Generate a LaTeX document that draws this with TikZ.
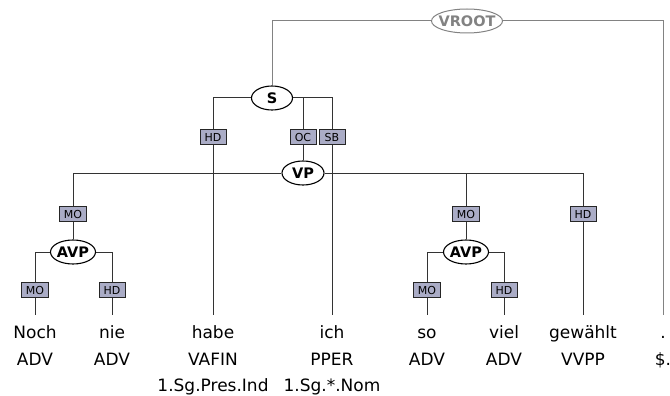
\documentclass[tikz,border=0pt]{standalone}
\usepackage{fontspec}
\setmainfont{DejaVu Sans}
\usepackage{xcolor}
\usepackage{tikz}
\usetikzlibrary{positioning, shapes.geometric}
\definecolor{lblfill}{RGB}{170,172,198}
\definecolor{rootgray}{RGB}{130,130,130}

\begin{document}
\begin{tikzpicture}[
  x=1pt, y=-1pt,
  word/.style={anchor=base, inner xsep=2pt, inner ysep=3pt,
               text height=20pt, text depth=4pt,
               font=\fontsize{17}{20}\selectfont},
  tag/.style={inner xsep=2pt, inner ysep=2pt,
              text height=13pt, text depth=4pt,
              font=\fontsize{17}{20}\selectfont},
  cat/.style={ellipse, draw=black, line width=1.1pt, fill=white,
              inner xsep=-1pt, inner ysep=0pt, minimum height=24pt,
              font=\fontsize{14.5}{17}\selectfont\bfseries},
  lbl/.style={rectangle, draw=black!85, fill=lblfill, line width=0.9pt,
              minimum width=26pt, inner xsep=4.5pt, inner ysep=3.5pt,
              text height=8pt, text depth=0pt,
              font=\fontsize{11}{13}\selectfont},
  edge/.style={draw=black!80, line width=1pt},
  rootedge/.style={draw=rootgray, line width=1pt},
  node distance=5pt
]
\useasboundingbox (0,0) rectangle (670,396);

% Words
\node[word] (noch) at (35,338) {Noch};
\node[word] (nie) at (112,338) {nie};
\node[word] (habe) at (213,338) {habe};
\node[word] (ich) at (332,338) {ich};
\node[word] (so) at (427,338) {so};
\node[word] (viel) at (504,338) {viel};
\node[word] (gewaehlt) at (583,338) {gewählt};
\node[word] (punct) at (663,338) {.};

% Part-of-speech tags
\node[tag, below=of noch] (nochpos) {ADV};
\node[tag, below=of nie] (niepos) {ADV};
\node[tag, below=of habe] (habepos) {VAFIN};
\node[tag, below=of ich] (ichpos) {PPER};
\node[tag, below=of so] (sopos) {ADV};
\node[tag, below=of viel] (vielpos) {ADV};
\node[tag, below=of gewaehlt] (gewaehltpos) {VVPP};
\node[tag, below=of punct] (punctpos) {\$.};

% Morphology
\node[tag, below=of habepos] (habemorph) {1.Sg.Pres.Ind};
\node[tag, below=of ichpos] (ichmorph) {1.Sg.*.Nom};

% Phrase nodes
\node[cat, draw=rootgray, text=rootgray, line width=1pt, inner xsep=-4pt,
      minimum width=71pt] (vroot) at (467,21) {VROOT};
\node[cat, minimum width=41pt] (s) at (272,98) {S};
\node[cat, minimum width=42pt] (vp) at (303,173) {VP};
\node[cat, minimum width=45pt] (avpl) at (73,252) {AVP};
\node[cat, minimum width=45pt] (avpr) at (466,252) {AVP};

% Edge labels
\node[lbl] (shd) at (213,137) {HD};
\node[lbl] (soc) at (303,137) {OC};
\node[lbl] (ssb) at (332,137) {SB};
\node[lbl] (vpmol) at (73,214) {MO};
\node[lbl] (vpmor) at (466,214) {MO};
\node[lbl] (vphd) at (583,214) {HD};
\node[lbl] (avplmo) at (35,290) {MO};
\node[lbl] (avplhd) at (112,290) {HD};
\node[lbl] (avprmo) at (427,290) {MO};
\node[lbl] (avprhd) at (504,290) {HD};

% Virtual root
\draw[rootedge] (s) |- (vroot) -| (punct);

% S
\draw[edge] (s) -| (shd);
\draw[edge] (shd) -- (habe);
\draw[edge] (s) -| (soc);
\draw[edge] (soc) -- (vp);
\draw[edge] (s) -| (ssb);
\draw[edge] (ssb) -- (ich);

% VP
\draw[edge] (vp) -| (vpmol);
\draw[edge] (vpmol) -- (avpl);
\draw[edge] (vp) -| (vpmor);
\draw[edge] (vpmor) -- (avpr);
\draw[edge] (vp) -| (vphd);
\draw[edge] (vphd) -- (gewaehlt);

% AVPs
\draw[edge] (avpl) -| (avplmo);
\draw[edge] (avplmo) -- (noch);
\draw[edge] (avpl) -| (avplhd);
\draw[edge] (avplhd) -- (nie);
\draw[edge] (avpr) -| (avprmo);
\draw[edge] (avprmo) -- (so);
\draw[edge] (avpr) -| (avprhd);
\draw[edge] (avprhd) -- (viel);

\end{tikzpicture}
\end{document}
